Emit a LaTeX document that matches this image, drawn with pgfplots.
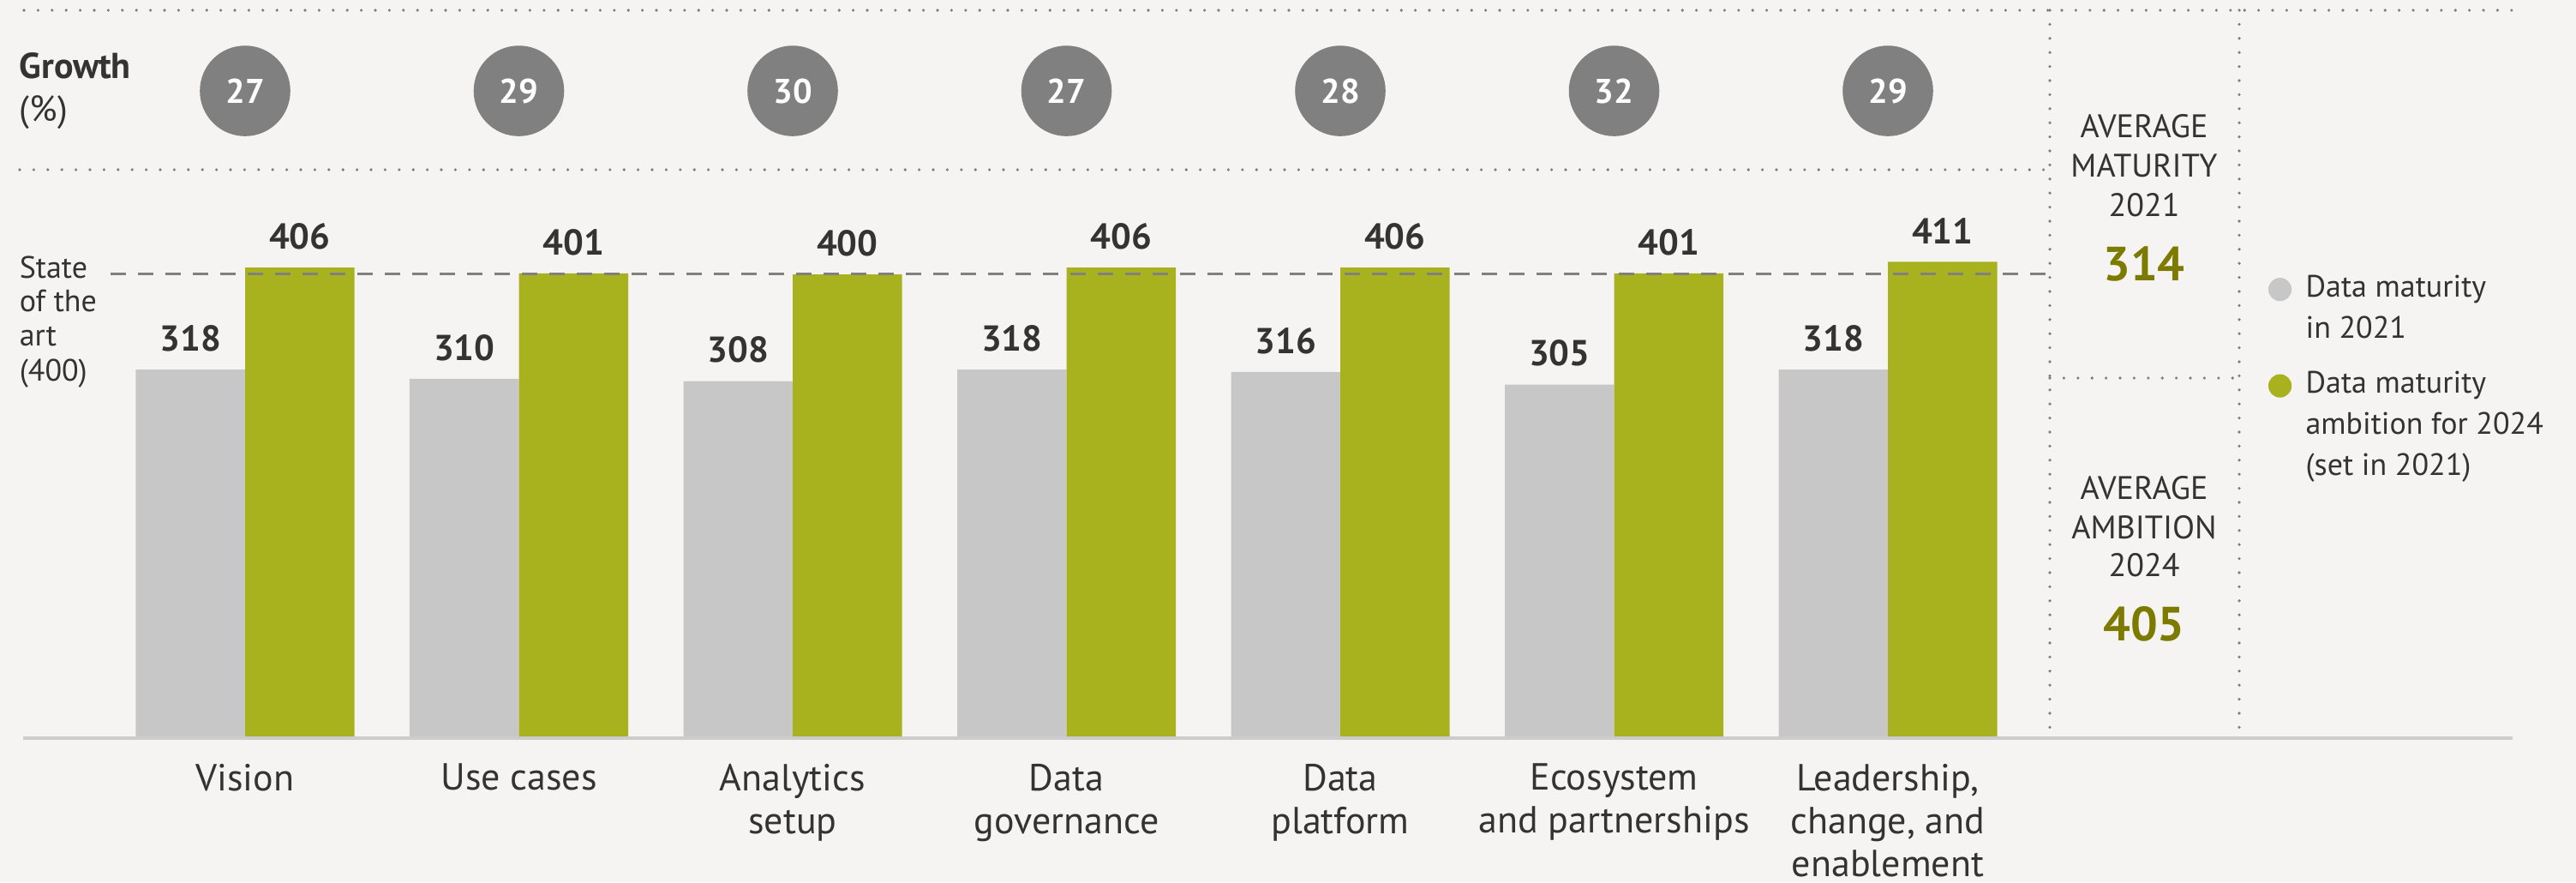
\documentclass[border=0pt]{standalone}
\usepackage{pgfplots}
\pgfplotsset{compat=1.18}
\usepackage{fontspec}
\setmainfont{PT Sans}
\definecolor{bgc}{RGB}{245,244,242}
\definecolor{barGrey}{RGB}{199,199,199}
\definecolor{barGreen}{RGB}{168,178,30}
\definecolor{circGrey}{RGB}{128,128,128}
\definecolor{dark}{RGB}{51,51,51}
\definecolor{olive}{RGB}{125,122,0}
\definecolor{dotc}{RGB}{125,125,125}
\definecolor{lineGrey}{RGB}{204,204,204}
\begin{document}
\begin{tikzpicture}
\useasboundingbox (0,0) rectangle (751.5pt,257.25pt);
\fill[bgc] (0,0) rectangle (751.5pt,257.25pt);
\begin{axis}[
  at={(0,0)}, anchor=south west,
  scale only axis, width=751.5pt, height=257.25pt,
  xmin=-0.89515, xmax=8.5133, ymin=-124.26, ymax=636.83,
  axis x line=middle, axis y line=none,
  axis line style={draw=none},
  hide obscured x ticks=false,
  xtick={0,...,6},
  xticklabels={Vision, Use cases, {Analytics\\setup}, {Data\\governance}, {Data\\platform}, {Ecosystem\\and partnerships}, {Leadership,\\change, and\\enablement}},
  xticklabel style={align=center, anchor=north, yshift=-4pt, font=\fontsize{11}{12.5}\selectfont, text=dark},
  major tick length=0pt, tick style={draw=none},
  ytick=\empty,
  clip=false,
  /pgf/number format/assume math mode=true,
  legend cell align=left,
  legend style={draw=none, fill=none, at={(0.8803,0.6967)}, anchor=north west,
    font=\fontsize{9}{12}\selectfont, text=dark, column sep=0pt, row sep=4.25pt,
    inner sep=0pt, cells={align=left}},
]
\addplot[ybar, bar width=31.875pt, bar shift=-15.94pt, fill=barGrey, draw=none,
  nodes near coords, nodes near coords style={font=\bfseries\fontsize{10.5}{12}\selectfont, text=dark, yshift=1.75pt, xshift=-15.94pt},
  legend image code/.code={\fill[barGrey] (0pt,5.75pt) circle (3.4pt); \path (5.5pt,0pt);}]
  coordinates {(0,318) (1,310) (2,308) (3,318) (4,316) (5,305) (6,318)};
\addlegendentry{Data maturity\\in 2021}
\addplot[ybar, bar width=31.875pt, bar shift=15.94pt, fill=barGreen, draw=none,
  nodes near coords, nodes near coords style={font=\bfseries\fontsize{10.5}{12}\selectfont, text=dark, yshift=1.75pt, xshift=15.94pt},
  legend image code/.code={\fill[barGreen] (0pt,11.75pt) circle (3.4pt); \path (5.5pt,0pt);}]
  coordinates {(0,406) (1,401) (2,400) (3,406) (4,406) (5,401) (6,411)};
\addlegendentry{Data maturity\\ambition for 2024\\(set in 2021)}
\addplot[color=circGrey, only marks, mark=*, mark size=13pt, mark options={fill=circGrey, draw=circGrey},
  point meta=explicit, forget plot,
  nodes near coords, nodes near coords style={anchor=center, text=white, font=\bfseries\fontsize{10}{12}\selectfont}]
  coordinates {(0,558.4) [27] (1,558.4) [29] (2,558.4) [30] (3,558.4) [27] (4,558.4) [28] (5,558.4) [32] (6,558.4) [29]};
\end{axis}
\begin{scope}[x=0.25pt, y=-0.25pt, yshift=257.25pt]
  \tikzset{dotl/.style={dotc, line width=0.9pt, line cap=round, dash pattern=on 0pt off 4.1pt}}
  \draw[dotl] (28,12) -- (2932,12);
  \draw[dotl] (23,198) -- (2392,198);
  \draw[dotl] (2392,12) -- (2392,849);
  \draw[dotl] (2613,12) -- (2613,849);
  \draw[dotl] (2392,441) -- (2613,441);
  \draw[circGrey, line width=0.75pt, dash pattern=on 4.5pt off 3.5pt] (129,320) -- (2388,320);
  \draw[lineGrey, line width=0.8pt] (27,861) -- (2932,861);
  \tikzset{lab/.style={inner sep=0pt, text=dark}}
  \node[lab, anchor=base west, font=\bfseries\fontsize{10.5}{12}\selectfont] at (22,92) {Growth};
  \node[lab, anchor=base west, font=\fontsize{10.5}{12}\selectfont] at (22,142) {(\%)};
  \node[lab, anchor=base west, font=\fontsize{9}{10}\selectfont] at (22,325) {State};
  \node[lab, anchor=base west, font=\fontsize{9}{10}\selectfont] at (22,364) {of the};
  \node[lab, anchor=base west, font=\fontsize{9}{10}\selectfont] at (22,404) {art};
  \node[lab, anchor=base west, font=\fontsize{9}{10}\selectfont] at (22,444) {(400)};
  \node[lab, anchor=base, font=\fontsize{9.5}{11}\selectfont] at (2502,161) {AVERAGE};
  \node[lab, anchor=base, font=\fontsize{9.5}{11}\selectfont] at (2502,207) {MATURITY};
  \node[lab, anchor=base, font=\fontsize{9.5}{11}\selectfont] at (2502,253) {2021};
  \node[inner sep=0pt, text=olive, anchor=base, font=\bfseries\fontsize{14}{16}\selectfont] at (2502,328) {314};
  \node[lab, anchor=base, font=\fontsize{9.5}{11}\selectfont] at (2502,582) {AVERAGE};
  \node[lab, anchor=base, font=\fontsize{9.5}{11}\selectfont] at (2502,628) {AMBITION};
  \node[lab, anchor=base, font=\fontsize{9.5}{11}\selectfont] at (2502,672) {2024};
  \node[inner sep=0pt, text=olive, anchor=base, font=\bfseries\fontsize{14}{16}\selectfont] at (2502,747) {405};
\end{scope}
\end{tikzpicture}
\end{document}
